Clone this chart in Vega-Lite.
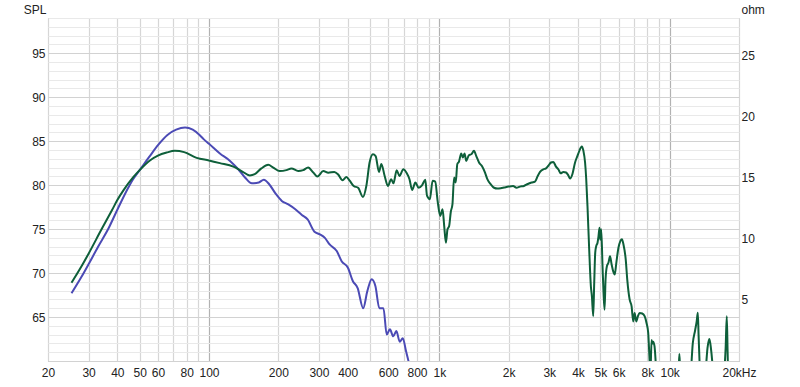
{
  "$schema": "https://vega.github.io/schema/vega-lite/v6.json",
  "width": 691,
  "height": 343,
  "autosize": {"type": "none"},
  "padding": {"left": 48, "top": 18, "right": 61, "bottom": 26},
  "config": {
    "font": "Liberation Sans",
    "view": {"stroke": "#aeaeae", "strokeWidth": 1},
    "axis": {"labelColor": "#222222", "titleColor": "#222222", "labelFontSize": 12, "titleFontSize": 12, "titleFontWeight": "normal", "domain": false, "ticks": false}
  },
  "datasets": {
    "blue": [
      {"f": 25.3, "spl": 67.7}, {"f": 28, "spl": 69.6}, {"f": 30, "spl": 71.0}, {"f": 33, "spl": 73.0},
      {"f": 36.5, "spl": 75.0}, {"f": 40, "spl": 77.2}, {"f": 44.6, "spl": 79.7}, {"f": 46.9, "spl": 80.7}, {"f": 50, "spl": 81.7},
      {"f": 55, "spl": 83.2}, {"f": 60.3, "spl": 84.6}, {"f": 66, "spl": 85.7}, {"f": 72, "spl": 86.3},
      {"f": 78.7, "spl": 86.55}, {"f": 85, "spl": 86.3}, {"f": 91, "spl": 85.7}, {"f": 95, "spl": 85.2},
      {"f": 100, "spl": 84.7}, {"f": 111.5, "spl": 83.6}, {"f": 123.4, "spl": 82.75}, {"f": 134, "spl": 81.8},
      {"f": 143, "spl": 80.9}, {"f": 153.5, "spl": 80.2}, {"f": 164.5, "spl": 80.3}, {"f": 173, "spl": 80.6},
      {"f": 182.5, "spl": 80.1}, {"f": 195, "spl": 79.0}, {"f": 207, "spl": 78.2}, {"f": 221, "spl": 77.8},
      {"f": 237, "spl": 77.25}, {"f": 253, "spl": 76.6}, {"f": 268, "spl": 76.1}, {"f": 287, "spl": 74.7},
      {"f": 303, "spl": 74.4}, {"f": 318.5, "spl": 74.0}, {"f": 334, "spl": 73.25}, {"f": 358.6, "spl": 72.5},
      {"f": 376.6, "spl": 71.35}, {"f": 401, "spl": 70.6}, {"f": 421, "spl": 69.1}, {"f": 442, "spl": 68.3},
      {"f": 467, "spl": 66.0}, {"f": 487, "spl": 67.95}, {"f": 508.5, "spl": 69.3}, {"f": 528, "spl": 68.5},
      {"f": 549, "spl": 66.0}, {"f": 572, "spl": 66.0}, {"f": 591, "spl": 63.0}, {"f": 610, "spl": 63.6},
      {"f": 631, "spl": 62.8}, {"f": 651, "spl": 63.4}, {"f": 673, "spl": 62.2}, {"f": 694, "spl": 62.6},
      {"f": 717, "spl": 61.1}, {"f": 733, "spl": 60.1}, {"f": 745, "spl": 59.3}
    ],
    "green": [
      {"f": 25.3, "spl": 68.9}, {"f": 28, "spl": 70.8}, {"f": 30, "spl": 72.2}, {"f": 34.2, "spl": 75.0},
      {"f": 38, "spl": 77.2}, {"f": 40, "spl": 78.3}, {"f": 42.5, "spl": 79.4}, {"f": 46.9, "spl": 80.9}, {"f": 50, "spl": 81.7},
      {"f": 55.4, "spl": 82.8}, {"f": 60, "spl": 83.35}, {"f": 65.5, "spl": 83.7}, {"f": 71, "spl": 83.9},
      {"f": 78, "spl": 83.75}, {"f": 88.4, "spl": 83.1}, {"f": 100, "spl": 82.8}, {"f": 111.5, "spl": 82.5},
      {"f": 127.6, "spl": 82.1}, {"f": 138.4, "spl": 81.6}, {"f": 150.4, "spl": 81.1}, {"f": 158, "spl": 81.24},
      {"f": 168.8, "spl": 81.9}, {"f": 180.8, "spl": 82.3}, {"f": 190, "spl": 82.0}, {"f": 202.8, "spl": 81.6},
      {"f": 216.7, "spl": 81.7}, {"f": 228, "spl": 81.9}, {"f": 243.9, "spl": 81.6}, {"f": 256.5, "spl": 81.7},
      {"f": 269.4, "spl": 82.0}, {"f": 283.7, "spl": 81.43}, {"f": 295.3, "spl": 80.97}, {"f": 313.5, "spl": 81.6},
      {"f": 329.5, "spl": 81.4}, {"f": 350, "spl": 81.5}, {"f": 363, "spl": 81.24}, {"f": 380, "spl": 80.55},
      {"f": 395, "spl": 80.93}, {"f": 408, "spl": 80.5}, {"f": 425, "spl": 79.9}, {"f": 444, "spl": 79.7},
      {"f": 466, "spl": 78.65}, {"f": 482, "spl": 79.9}, {"f": 498, "spl": 82.57}, {"f": 515, "spl": 83.5},
      {"f": 529, "spl": 83.3}, {"f": 547, "spl": 81.5}, {"f": 560, "spl": 82.4}, {"f": 579, "spl": 81.04},
      {"f": 598, "spl": 79.9}, {"f": 618, "spl": 80.67}, {"f": 632, "spl": 80.2}, {"f": 653, "spl": 81.7},
      {"f": 671, "spl": 81.04}, {"f": 698, "spl": 81.8}, {"f": 722, "spl": 81.35}, {"f": 742, "spl": 80.67},
      {"f": 762, "spl": 79.45}, {"f": 787, "spl": 80.3}, {"f": 813, "spl": 79.7}, {"f": 841, "spl": 79.98},
      {"f": 869, "spl": 80.6}, {"f": 884, "spl": 78.8}, {"f": 910, "spl": 78.4}, {"f": 935, "spl": 80.5},
      {"f": 960, "spl": 80.4}, {"f": 983, "spl": 78.2}, {"f": 1009, "spl": 76.5}, {"f": 1033, "spl": 77.25},
      {"f": 1050, "spl": 75.34}, {"f": 1068, "spl": 73.45}, {"f": 1085, "spl": 74.97}, {"f": 1103, "spl": 75.34},
      {"f": 1122, "spl": 77.0}, {"f": 1140, "spl": 77.8}, {"f": 1159, "spl": 80.86}, {"f": 1178, "spl": 80.3},
      {"f": 1197, "spl": 82.4}, {"f": 1216, "spl": 82.64}, {"f": 1245, "spl": 83.6}, {"f": 1265, "spl": 83.14},
      {"f": 1287, "spl": 83.6}, {"f": 1308, "spl": 82.75}, {"f": 1344, "spl": 83.4}, {"f": 1376, "spl": 83.5},
      {"f": 1414, "spl": 83.9}, {"f": 1447, "spl": 83.3}, {"f": 1487, "spl": 82.57}, {"f": 1537, "spl": 82.1},
      {"f": 1579, "spl": 81.43}, {"f": 1616, "spl": 80.67}, {"f": 1671, "spl": 80.1}, {"f": 1728, "spl": 79.7},
      {"f": 1787, "spl": 79.6}, {"f": 1848, "spl": 79.64}, {"f": 1911, "spl": 79.72}, {"f": 2000, "spl": 79.83},
      {"f": 2091, "spl": 79.9}, {"f": 2163, "spl": 79.7}, {"f": 2237, "spl": 79.83}, {"f": 2329, "spl": 79.9},
      {"f": 2408, "spl": 80.1}, {"f": 2515, "spl": 80.3}, {"f": 2602, "spl": 80.4}, {"f": 2674, "spl": 81.04},
      {"f": 2737, "spl": 81.5}, {"f": 2829, "spl": 81.8}, {"f": 2905, "spl": 81.9}, {"f": 2973, "spl": 82.2},
      {"f": 3054, "spl": 82.57}, {"f": 3125, "spl": 82.64}, {"f": 3210, "spl": 82.1}, {"f": 3285, "spl": 81.8},
      {"f": 3364, "spl": 81.35}, {"f": 3456, "spl": 81.5}, {"f": 3550, "spl": 81.43}, {"f": 3633, "spl": 81.1},
      {"f": 3694, "spl": 80.75}, {"f": 3781, "spl": 81.24}, {"f": 3884, "spl": 82.57}, {"f": 3974, "spl": 83.3},
      {"f": 4055, "spl": 83.9}, {"f": 4154, "spl": 84.4}, {"f": 4222, "spl": 83.9}, {"f": 4293, "spl": 82.57},
      {"f": 4340, "spl": 80.8}, {"f": 4398, "spl": 77.6}, {"f": 4473, "spl": 72.7}, {"f": 4549, "spl": 68.5},
      {"f": 4596, "spl": 67.36}, {"f": 4657, "spl": 65.1}, {"f": 4704, "spl": 68.9}, {"f": 4751, "spl": 72.3},
      {"f": 4799, "spl": 73.06}, {"f": 4863, "spl": 73.45}, {"f": 4911, "spl": 74.2}, {"f": 4960, "spl": 75.16},
      {"f": 4994, "spl": 73.8}, {"f": 5044, "spl": 74.97}, {"f": 5111, "spl": 70.8}, {"f": 5163, "spl": 67.75},
      {"f": 5215, "spl": 65.84}, {"f": 5268, "spl": 69.26}, {"f": 5339, "spl": 70.78}, {"f": 5422, "spl": 71.17},
      {"f": 5508, "spl": 71.9}, {"f": 5596, "spl": 71.0}, {"f": 5685, "spl": 70.2}, {"f": 5775, "spl": 69.83},
      {"f": 5867, "spl": 71.17}, {"f": 5993, "spl": 72.88}, {"f": 6109, "spl": 73.63}, {"f": 6205, "spl": 73.83},
      {"f": 6302, "spl": 73.25}, {"f": 6445, "spl": 71.55}, {"f": 6545, "spl": 69.26}, {"f": 6701, "spl": 67.0},
      {"f": 6836, "spl": 66.2}, {"f": 6948, "spl": 64.5}, {"f": 7045, "spl": 65.47}, {"f": 7161, "spl": 64.5},
      {"f": 7283, "spl": 65.1}, {"f": 7406, "spl": 65.47}, {"f": 7602, "spl": 65.4}, {"f": 7785, "spl": 65.1},
      {"f": 7940, "spl": 64.3}, {"f": 8070, "spl": 63.2}, {"f": 8181, "spl": 60.1}, {"f": 8250, "spl": 58.5},
      {"f": 8345, "spl": 62.4}, {"f": 8420, "spl": 62.0}, {"f": 8483, "spl": 62.2}, {"f": 8598, "spl": 61.66},
      {"f": 8685, "spl": 60.1}, {"f": 8800, "spl": 57}, {"f": 10700, "spl": 55}, {"f": 10950, "spl": 59},
      {"f": 11020, "spl": 60.8}, {"f": 11100, "spl": 59}, {"f": 11500, "spl": 55}, {"f": 12300, "spl": 58},
      {"f": 12600, "spl": 62}, {"f": 12900, "spl": 63.5}, {"f": 13100, "spl": 64.5}, {"f": 13250, "spl": 65.5},
      {"f": 13350, "spl": 63}, {"f": 13500, "spl": 59.5}, {"f": 13800, "spl": 55}, {"f": 14300, "spl": 58.5},
      {"f": 14600, "spl": 61.5}, {"f": 14875, "spl": 62.5}, {"f": 15100, "spl": 61.5}, {"f": 15400, "spl": 59},
      {"f": 15700, "spl": 55}, {"f": 17000, "spl": 55}, {"f": 17300, "spl": 59}, {"f": 17500, "spl": 61.5},
      {"f": 17700, "spl": 65.1}, {"f": 17850, "spl": 61}, {"f": 18000, "spl": 57}, {"f": 18500, "spl": 55},
      {"f": 20000, "spl": 50}
    ],
    "ohmaxis": [{"f": 1000, "ohm": 0}, {"f": 1000, "ohm": 28.1}]
  },
  "encoding": {
    "x": {
      "field": "f", "type": "quantitative",
      "scale": {"type": "log", "domain": [20, 20000], "nice": false},
      "axis": {
        "title": null,
        "values": [20, 30, 40, 50, 60, 70, 80, 90, 100, 200, 300, 400, 500, 600, 700, 800, 900, 1000, 2000, 3000, 4000, 5000, 6000, 7000, 8000, 9000, 10000, 20000],
        "labelExpr": "datum.value == 20000 ? '20kHz' : (datum.value == 70 || datum.value == 90 || datum.value == 500 || datum.value == 700 || datum.value == 900 || datum.value == 7000 || datum.value == 9000) ? '' : (datum.value >= 1000 ? (datum.value / 1000) + 'k' : '' + datum.value)",
        "labelFlush": false,
        "labelOverlap": false,
        "labelBound": false,
        "labelPadding": 6,
        "grid": true,
        "gridColor": {"condition": {"test": "datum.value == 100 || datum.value == 1000 || datum.value == 10000", "value": "#b2b2b2"}, "value": "#d6d6d6"},
        "gridWidth": 1.2
      }
    }
  },
  "layer": [
    {
      "encoding": {
        "y": {
          "field": "spl", "type": "quantitative",
          "scale": {"domain": [60, 99], "nice": false, "zero": false},
          "axis": {
            "title": "SPL",
            "titleAngle": 0, "titleAlign": "right", "titleBaseline": "alphabetic", "titleX": -2, "titleY": -5,
            "values": [60, 61, 62, 63, 64, 65, 66, 67, 68, 69, 70, 71, 72, 73, 74, 75, 76, 77, 78, 79, 80, 81, 82, 83, 84, 85, 86, 87, 88, 89, 90, 91, 92, 93, 94, 95, 96, 97, 98, 99],
            "labelExpr": "(datum.value % 5 == 0 && datum.value > 60) ? datum.label : ''",
            "labelPadding": 3,
            "labelOverlap": false,
            "labelBound": false,
            "labelFlush": false,
            "grid": true,
            "gridColor": {"condition": {"test": "datum.value % 5 == 0", "value": "#d2d2d2"}, "value": "#e9e9e9"},
            "gridWidth": 1.2
          }
        }
      },
      "layer": [
        {
          "data": {"name": "blue"},
          "mark": {"type": "line", "color": "#4b4ab5", "strokeWidth": 2, "clip": true, "interpolate": "monotone"}
        },
        {
          "data": {"name": "green"},
          "mark": {"type": "line", "color": "#0e5f3a", "strokeWidth": 2, "clip": true, "interpolate": "monotone"}
        }
      ]
    },
    {
      "data": {"name": "ohmaxis"},
      "mark": {"type": "point", "opacity": 0},
      "encoding": {
        "y": {
          "field": "ohm", "type": "quantitative",
          "scale": {"domain": [0, 28.1], "nice": false, "zero": false},
          "axis": {
            "orient": "right",
            "title": "ohm",
            "titleAngle": 0, "titleAlign": "left", "titleBaseline": "alphabetic", "titleX": 2, "titleY": -5,
            "values": [5, 10, 15, 20, 25],
            "labelPadding": 2,
            "labelFlush": false,
            "grid": false
          }
        }
      }
    }
  ],
  "resolve": {"scale": {"y": "independent"}, "axis": {"y": "independent"}}
}
